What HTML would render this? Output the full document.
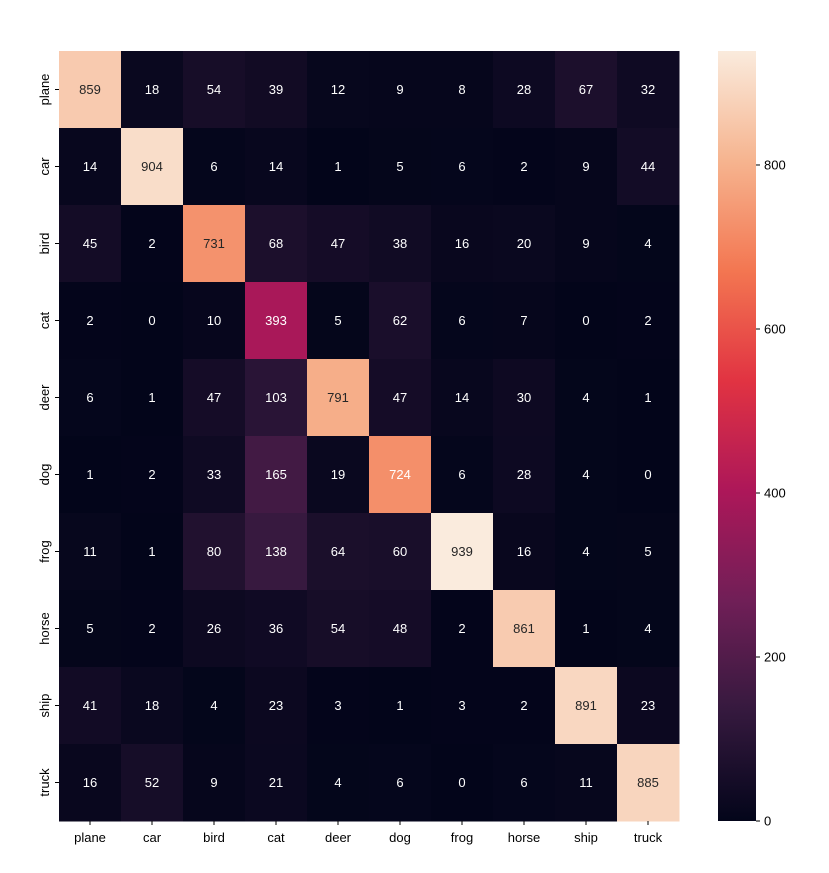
<!DOCTYPE html>
<html><head><meta charset="utf-8"><style>
body{margin:0;background:#fff}
svg text{font-family:"Liberation Sans","DejaVu Sans",sans-serif;font-size:13px}
</style></head><body>
<svg id="chart" width="829" height="868" viewBox="0 0 829 868">
<defs>
<linearGradient id="cbg" x1="0" y1="1" x2="0" y2="0">
<stop offset="0" stop-color="#03051a"/><stop offset="0.143" stop-color="#35193e"/><stop offset="0.286" stop-color="#701f57"/><stop offset="0.429" stop-color="#ad1759"/><stop offset="0.571" stop-color="#e13342"/><stop offset="0.714" stop-color="#f37651"/><stop offset="0.857" stop-color="#f6b48f"/><stop offset="1" stop-color="#faebdd"/>
</linearGradient>
</defs>
<g id="cells"></g>
<g id="axes"></g>
<rect x="718" y="51" width="38" height="770" fill="url(#cbg)"/>
<g id="cbticks"></g>
</svg>
<script>
const categories=["plane","car","bird","cat","deer","dog","frog","horse","ship","truck"];
const values=[
[859,18,54,39,12,9,8,28,67,32],
[14,904,6,14,1,5,6,2,9,44],
[45,2,731,68,47,38,16,20,9,4],
[2,0,10,393,5,62,6,7,0,2],
[6,1,47,103,791,47,14,30,4,1],
[1,2,33,165,19,724,6,28,4,0],
[11,1,80,138,64,60,939,16,4,5],
[5,2,26,36,54,48,2,861,1,4],
[41,18,4,23,3,1,3,2,891,23],
[16,52,9,21,4,6,0,6,11,885]];
const cbTicks=[0,200,400,600,800];
const vmin=0, vmax=939;
const X0=59,Y0=51,W=620,H=770;
const stops=[[0,[3,5,26]],[0.143,[53,25,62]],[0.286,[112,31,87]],[0.429,[173,23,89]],[0.571,[225,51,66]],[0.714,[243,118,81]],[0.857,[246,180,143]],[1,[250,235,221]]];
function cmap(t){t=Math.max(0,Math.min(1,t));for(let i=1;i<stops.length;i++){if(t<=stops[i][0]){const a=stops[i-1],b=stops[i];const f=(t-a[0])/(b[0]-a[0]);return a[1].map((v,k)=>Math.round(v+(b[1][k]-v)*f));}}return stops[stops.length-1][1];}
function lum(c){const l=c.map(v=>{v/=255;return v<=0.03928?v/12.92:Math.pow((v+0.055)/1.055,2.4)});return 0.2126*l[0]+0.7152*l[1]+0.0722*l[2];}
const ns="http://www.w3.org/2000/svg";
const n=categories.length, cw=W/n, ch=H/n;
const xs=i=>X0+i*cw, ys=j=>Y0+j*ch;
const cy=v=>Y0+H-(v-vmin)/(vmax-vmin)*H;
const cells=document.getElementById('cells');
values.forEach((row,r)=>row.forEach((v,c)=>{
 const col=cmap((v-vmin)/(vmax-vmin));
 const rect=document.createElementNS(ns,'rect');
 rect.setAttribute('x',xs(c));rect.setAttribute('y',ys(r));rect.setAttribute('width',cw+0.5);rect.setAttribute('height',ch+0.5);
 rect.setAttribute('fill','rgb('+col.join(',')+')');
 
 
 cells.appendChild(rect);
 const t=document.createElementNS(ns,'text');
 t.setAttribute('x',xs(c)+cw/2);t.setAttribute('y',ys(r)+ch/2+4.5);t.setAttribute('text-anchor','middle');
 t.setAttribute('fill',lum(col)>0.408?'#262626':'#fff');
 t.textContent=v;
 
 
 cells.appendChild(t);
}));
const axes=document.getElementById('axes');
categories.forEach((name,i)=>{
 const tx=document.createElementNS(ns,'line');
 tx.setAttribute('x1',xs(i)+cw/2);tx.setAttribute('x2',xs(i)+cw/2);tx.setAttribute('y1',Y0+H);tx.setAttribute('y2',Y0+H+4);tx.setAttribute('stroke','#000');
 axes.appendChild(tx);
 const lx=document.createElementNS(ns,'text');
 lx.setAttribute('x',xs(i)+cw/2);lx.setAttribute('y',Y0+H+21);lx.setAttribute('text-anchor','middle');
 lx.textContent=name;
 
 
 axes.appendChild(lx);
 const ty=document.createElementNS(ns,'line');
 ty.setAttribute('x1',X0-4);ty.setAttribute('x2',X0);ty.setAttribute('y1',ys(i)+ch/2);ty.setAttribute('y2',ys(i)+ch/2);ty.setAttribute('stroke','#000');
 axes.appendChild(ty);
 const ly=document.createElementNS(ns,'text');
 const px=X0-10,py=ys(i)+ch/2;
 ly.setAttribute('x',px);ly.setAttribute('y',py);ly.setAttribute('text-anchor','middle');
 ly.setAttribute('transform','rotate(-90 '+px+' '+py+')');
 ly.textContent=name;
 
 
 axes.appendChild(ly);
});
const cbt=document.getElementById('cbticks');
cbTicks.forEach(v=>{
 const l=document.createElementNS(ns,'line');
 l.setAttribute('x1',756);l.setAttribute('x2',760);l.setAttribute('y1',cy(v));l.setAttribute('y2',cy(v));l.setAttribute('stroke','#000');
 cbt.appendChild(l);
 const t=document.createElementNS(ns,'text');
 t.setAttribute('x',764);t.setAttribute('y',cy(v)+4.5);
 t.textContent=v;
 
 
 cbt.appendChild(t);
});
</script>
</body></html>
